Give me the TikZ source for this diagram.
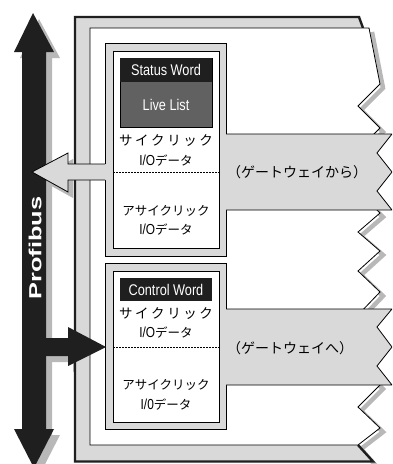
\documentclass[tikz,border=0pt]{standalone}
\usepackage{fontspec}
\setmainfont{Liberation Sans}
\newfontfamily\narrowfont[FakeStretch=0.82]{Liberation Sans}
\newfontfamily\widebold[FakeStretch=1.45]{Liberation Sans Bold}
\newfontfamily\jp{Noto Sans CJK JP}
\definecolor{lightg}{gray}{0.85}
\definecolor{shadowg}{gray}{0.72}
\definecolor{liveg}{gray}{0.38}
\definecolor{darkblk}{gray}{0.12}
\newcommand{\kk}{\kern2.6pt}
\newcommand{\cyc}{{\jp\fontsize{13.5}{13.5}\selectfont サ\kk イ\kk ク\kk リ\kk ッ\kk ク}}
\newcommand{\acyc}{{\jp\fontsize{12.5}{12.5}\selectfont アサイクリック}}
\newcommand{\iodata}[1]{{\narrowfont\fontsize{14.5}{14.5}\selectfont #1}{\jp\fontsize{12.5}{12.5}\selectfont データ}}
\tikzset{
  lbl/.style={inner sep=0pt, align=center},
  wlbl/.style={lbl, text=white, font=\narrowfont\fontsize{15.5}{15.5}\selectfont},
  thin line/.style={draw=black, line width=0.8pt},
}
\begin{document}
\begin{tikzpicture}[x=1pt,y=-1pt]
\useasboundingbox (0,0) rectangle (392,464);
\clip (0,0) rectangle (392,464);
% ---- shadows
\fill[shadowg, shift={(6,6)}] (33,13) -- (54,52) -- (46,52) -- (46,429) -- (54,429) -- (34,468) -- (14,429) -- (22,429) -- (22,52) -- (14,52) -- cycle;
\fill[shadowg, shift={(5,6)}] (40,338) -- (68,338) -- (68,327) -- (105,347) -- (68,366) -- (68,356) -- (40,356) -- cycle;
\fill[shadowg, shift={(5,6)}] (68,153) -- (32,172) -- (68,192) -- cycle;
\draw[shadowg, line width=4.5pt, shift={(3,4)}] (369,28) -- (380,84) -- (358,106) -- (380,128) -- (358,150) -- (380,171) -- (358,192) -- (380,213) -- (358,232) -- (380,251) -- (358,271) -- (380,292) -- (358,315) -- (380,338) -- (358,362) -- (380,385) -- (358,407) -- (380,428) -- (358,445) -- (373,462);
% ---- Profibus double arrow
\fill[darkblk] (33,13) -- (54,52) -- (46,52) -- (46,429) -- (54,429) -- (34,468) -- (14,429) -- (22,429) -- (22,52) -- (14,52) -- cycle;
% ---- outer frame
\fill[lightg] (75,17) -- (359,17) -- (363,28) -- (369,28) -- (380,84) -- (358,106) -- (380,128) -- (358,150) -- (380,171) -- (358,192) -- (380,213) -- (358,232) -- (380,251) -- (358,271) -- (380,292) -- (358,315) -- (380,338) -- (358,362) -- (380,385) -- (358,407) -- (380,428) -- (358,445) -- (373,462) -- (75,462) -- cycle;
\draw[darkblk, line width=2.4pt] (363,28) -- (359,17) -- (75,17) -- (75,461.5) -- (373,461.5) -- (358,445);
% ---- white panel
\filldraw[fill=white, thin line] (90,28) -- (369,28) -- (380,84) -- (358,106) -- (380,128) -- (358,150) -- (380,171) -- (358,192) -- (380,213) -- (358,232) -- (380,251) -- (358,271) -- (380,292) -- (358,315) -- (380,338) -- (358,362) -- (380,385) -- (358,407) -- (380,428) -- (358,445) -- (90,445) -- cycle;
% ---- module boxes
\filldraw[fill=lightg, thin line] (105,43) rectangle (226,256);
\filldraw[fill=white, thin line] (113,51) rectangle (219,248);
\filldraw[fill=lightg, thin line] (105,263) rectangle (226,429);
\filldraw[fill=white, thin line] (113,271) rectangle (219,422);
% headers
\filldraw[fill=liveg, thin line] (120,58) rectangle (212,127);
\fill[darkblk] (120,58) rectangle (212,82);
\fill[darkblk] (120,278) rectangle (212,301);
% dotted separators
\draw[black, line width=0.7pt, dash pattern=on 1.6pt off 1.4pt] (113,172) -- (219,172);
\draw[black, line width=0.7pt, dash pattern=on 1.6pt off 1.4pt] (113,347) -- (219,347);
% ---- gateway bands
\fill[lightg] (222,134) -- (392,134) -- (377,153) -- (392,172) -- (377,191) -- (392,210) -- (222,210) -- cycle;
\draw[thin line] (226,134) -- (392,134) -- (377,153) -- (392,172) -- (377,191) -- (392,210) -- (226,210);
\fill[lightg] (222,309) -- (392,309) -- (377,327) -- (392,347) -- (377,366) -- (392,385) -- (222,385) -- cycle;
\draw[thin line] (226,309) -- (392,309) -- (377,327) -- (392,347) -- (377,366) -- (392,385) -- (226,385);
% ---- arrow from gateway to Profibus
\fill[lightg] (110,164) -- (68,164) -- (68,153) -- (32,172) -- (68,192) -- (68,180) -- (110,180) -- cycle;
\draw[thin line] (105,164) -- (68,164) -- (68,153) -- (32,172) -- (68,192) -- (68,180) -- (105,180);
% ---- arrow from Profibus to module
\fill[darkblk] (40,338) -- (68,338) -- (68,327) -- (106,347) -- (68,366) -- (68,356) -- (40,356) -- cycle;
% ---- texts
\node[lbl, text=white, rotate=90, font=\widebold\fontsize{17.5}{17.5}\selectfont] (pb) at (35,248) {Profibus};
\node[wlbl] (sw) at (166,70) {Status Word};
\node[wlbl] (ll) at (166,105) {Live List};
\node[wlbl] (cw) at (166,289.5) {Control Word};
\node[lbl] (c1) at (166,141) {\cyc};
\node[lbl] (c1io) at (166,161) {\iodata{I/O}};
\node[lbl] (a1) at (166,211) {\acyc};
\node[lbl] (a1io) at (166,230) {\iodata{I/O}};
\node[lbl] (c2) at (166,314) {\cyc};
\node[lbl] (c2io) at (166,333) {\iodata{I/O}};
\node[lbl] (a2) at (166,385) {\acyc};
\node[lbl] (a2io) at (166,405) {\iodata{I/0}};
\node[lbl, anchor=west, font=\jp\fontsize{14}{14}\selectfont] (g1) at (227,172) {（ゲートウェイから）};
\node[lbl, anchor=west, font=\jp\fontsize{14}{14}\selectfont] (g2) at (227,348) {（ゲートウェイへ）};
\end{tikzpicture}
\end{document}
